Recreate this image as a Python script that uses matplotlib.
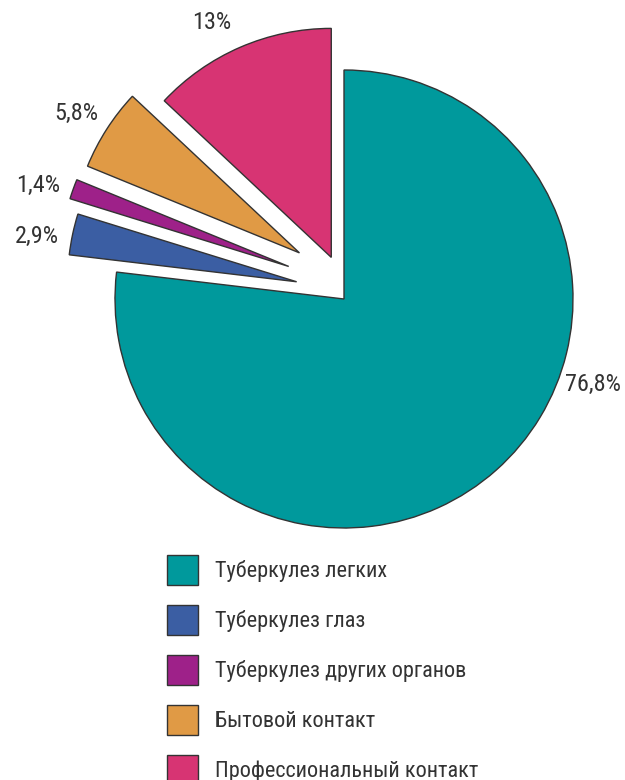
import numpy as np
import matplotlib
matplotlib.use('Agg')
import matplotlib.pyplot as plt

# ── Data ───────────────────────────────────────────────────────────────────────
CATEGORIES = ['Туберкулез легких', 'Туберкулез глаз', 'Туберкулез других органов',
              'Бытовой контакт', 'Профессиональный контакт']
VALUES     = [76.8, 2.9, 1.4, 5.8, 13.0]
PCT_LABELS = ['76,8%', '2,9%', '1,4%', '5,8%', '13%']
COLORS     = ['#00999c', '#3b5ea3', '#9e2189', '#e09a45', '#d73473']

# ── Style ──────────────────────────────────────────────────────────────────────
EXPLODE     = [0.0, 0.22, 0.28, 0.28, 0.19]      # pull-out distance (radius units)
EXPLODE_DIR = [0, 160, 149.5, 134, 107]          # pull-out direction (deg)
LABEL_DIR   = [-19, 170, 162, 148, 117]          # label direction from slice tip
LABEL_R     = 1.15

FONT = ['Roboto Condensed', 'DejaVu Sans']
W, H = 625, 780
CX, CY, R = 344, 299, 229   # pie centre / radius in pixels

fig = plt.figure(figsize=(W / 100, H / 100), dpi=100)
ax = fig.add_axes([0, 0, 1, 1])

wedges, _ = ax.pie(VALUES, colors=COLORS, startangle=90,
                   counterclock=False, radius=1.0,
                   wedgeprops=dict(edgecolor='#333333', linewidth=1.0))
ax.set_xlim(-CX / R, (W - CX) / R)
ax.set_ylim(-(H - CY) / R, CY / R)
ax.set_aspect('equal')
ax.axis('off')

for i, w in enumerate(wedges):
    a = np.deg2rad(EXPLODE_DIR[i])
    cx, cy = EXPLODE[i] * np.cos(a), EXPLODE[i] * np.sin(a)
    w.set_center((cx, cy))
    la = np.deg2rad(LABEL_DIR[i])
    ax.text(cx + LABEL_R * np.cos(la), cy + LABEL_R * np.sin(la), PCT_LABELS[i],
            ha='center', va='center', fontsize=17.5, color='#333333', family=FONT)

fs = 16
fs_px = fs * 100 / 72
box_h = 30                                   # legend swatch size, px
hh = (box_h / fs_px - 0.245) / 0.65          # undo legend's descent trim
leg = ax.legend(wedges, CATEGORIES, loc='upper left',
                bbox_to_anchor=(167 / W, 1 - 555 / H), bbox_transform=fig.transFigure,
                frameon=False, borderpad=0, borderaxespad=0,
                handlelength=31 / fs_px, handleheight=hh,
                handletextpad=17 / fs_px, labelspacing=20 / fs_px,
                prop=dict(family=FONT, size=fs))
for t in leg.get_texts():
    t.set_color('#333333')

fig.savefig('out.png', dpi=100)
